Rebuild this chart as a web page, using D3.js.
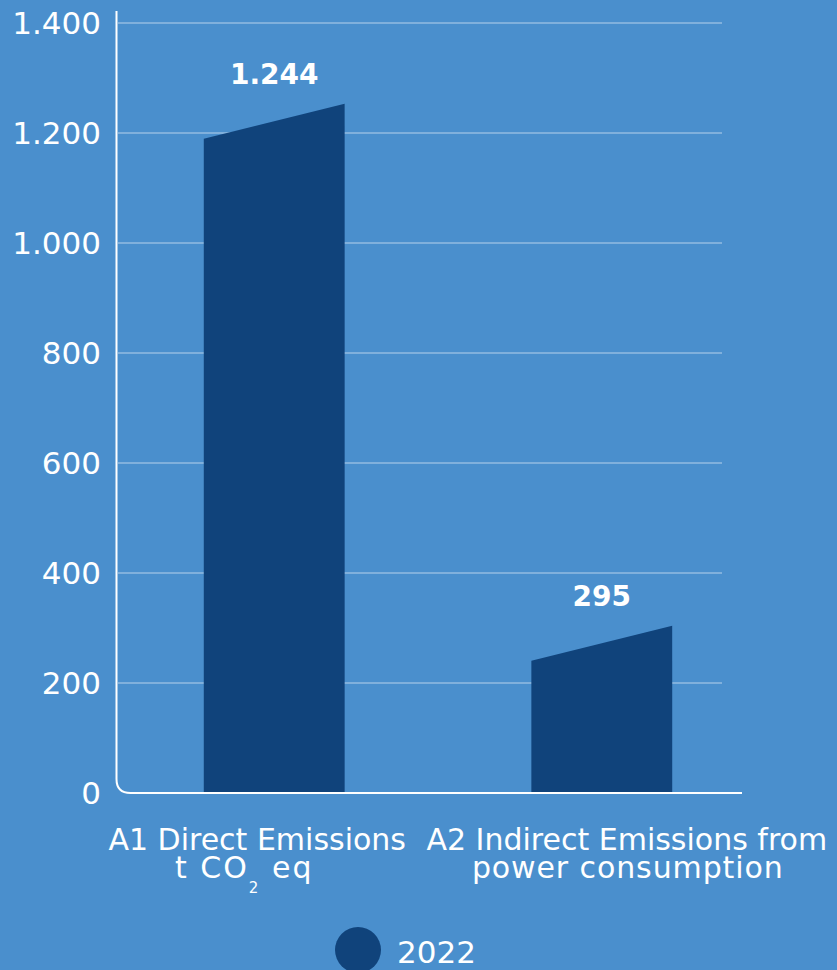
<!DOCTYPE html>
<meta charset="utf-8">
<head>
    <title>Emissions 2022</title>
    <style>
        body { margin: 0; background: #4a8fcd; }
        svg { display: block; }
        .tick-label { font-family: "DejaVu Sans", sans-serif; font-size: 31px; fill: white; }
        .cat-label { font-family: "DejaVu Sans", sans-serif; font-size: 30px; fill: white; }
        .value-label { font-family: "DejaVu Sans", sans-serif; font-size: 28px; font-weight: bold; fill: white; }
    </style>
</head>
<body>
    <script src="https://cdn.jsdelivr.net/npm/d3@7"></script>
    <script>
        // data
        var categories = ["A1", "A2"];
        var values = [1244, 295];
        var labelLine1 = ["A1 Direct Emissions", "A2 Indirect Emissions from"];
        var labelLine2 = ["t CO|2| eq", "power consumption"];   // |2| = subscript
        var valueText = ["1.244", "295"];
        var yTicks = [0, 200, 400, 600, 800, 1000, 1200, 1400];
        var tickText = ["0", "200", "400", "600", "800", "1.000", "1.200", "1.400"];
        var seriesName = "2022";

        var width = 837, height = 970;
        var barColor = "#10437b";

        var svg = d3.select("body")
            .append("svg")
            .attr("width", width)
            .attr("height", height);

        svg.append("rect")
            .attr("width", width)
            .attr("height", height)
            .attr("fill", "#4a8fcd");

        // scales
        var y = d3.scaleLinear().domain([0, 1400]).range([793, 23]);
        var x = d3.scaleBand().domain(categories)
            .range([116, 760])
            .paddingInner(0.57)
            .paddingOuter(0.268);

        // grid lines
        svg.append("g")
            .selectAll("line")
            .data(yTicks.slice(1))
            .enter().append("line")
            .attr("x1", 118)
            .attr("x2", 722)
            .attr("y1", d => y(d))
            .attr("y2", d => y(d))
            .attr("stroke", "rgba(255,255,255,0.3)")
            .attr("stroke-width", 2);

        // tick labels
        svg.append("g")
            .selectAll("text")
            .data(yTicks)
            .enter().append("text")
            .attr("class", "tick-label")
            .attr("x", 101)
            .attr("y", d => y(d))
            .attr("dy", "0.36em")
            .attr("text-anchor", "end")
            .text((d, i) => tickText[i]);

        // bars with slanted top
        var slantUp = 5, slantDown = 30;
        svg.append("g")
            .selectAll("path")
            .data(values)
            .enter().append("path")
            .attr("fill", barColor)
            .attr("d", function(d, i) {
                var x0 = x(categories[i]), x1 = x0 + x.bandwidth();
                var yv = y(d);
                return "M" + x0 + "," + y(0) +
                    "L" + x0 + "," + (yv + slantDown) +
                    "L" + x1 + "," + (yv - slantUp) +
                    "L" + x1 + "," + y(0) + "Z";
            });

        // axis line with rounded corner
        var ax = 116.5, ay = 793, r = 14;
        svg.append("path")
            .attr("d", "M" + ax + ",11 L" + ax + "," + (ay - r) +
                " Q" + ax + "," + ay + " " + (ax + r) + "," + ay + " L742," + ay)
            .attr("fill", "none")
            .attr("stroke", "white")
            .attr("stroke-width", 2);

        // value labels
        svg.append("g")
            .selectAll("text")
            .data(values)
            .enter().append("text")
            .attr("class", "value-label")
            .attr("x", (d, i) => x(categories[i]) + x.bandwidth() / 2)
            .attr("y", d => y(d) - 25)
            .attr("text-anchor", "middle")
            .text((d, i) => valueText[i]);

        // category labels (the picture shifts them off the bar centres)
        var shift1 = [-17, 25], shift2 = [-30, 26];
        var spacing2 = [2, 0.9];
        categories.forEach(function(c, i) {
            var cx = x(c) + x.bandwidth() / 2;
            svg.append("text")
                .attr("class", "cat-label")
                .attr("x", cx + shift1[i])
                .attr("y", 850)
                .attr("text-anchor", "middle")
                .text(labelLine1[i]);

            var t = svg.append("text")
                .attr("class", "cat-label")
                .attr("x", cx + shift2[i])
                .attr("y", 878)
                .attr("text-anchor", "middle")
                .style("letter-spacing", spacing2[i] + "px");
            var parts = labelLine2[i].split("|");
            parts.forEach(function(p, j) {
                var ts = t.append("tspan").text(p);
                if (j % 2 == 1) {
                    ts.attr("font-size", "15px").attr("dy", 15);
                } else if (j > 0) {
                    ts.attr("dy", -15);
                }
            });
        });

        // legend
        svg.append("circle")
            .attr("cx", 358)
            .attr("cy", 950)
            .attr("r", 23)
            .attr("fill", barColor);
        svg.append("text")
            .attr("class", "tick-label")
            .attr("x", 397)
            .attr("y", 963)
            .text(seriesName);
    </script>
</body>
</html>
